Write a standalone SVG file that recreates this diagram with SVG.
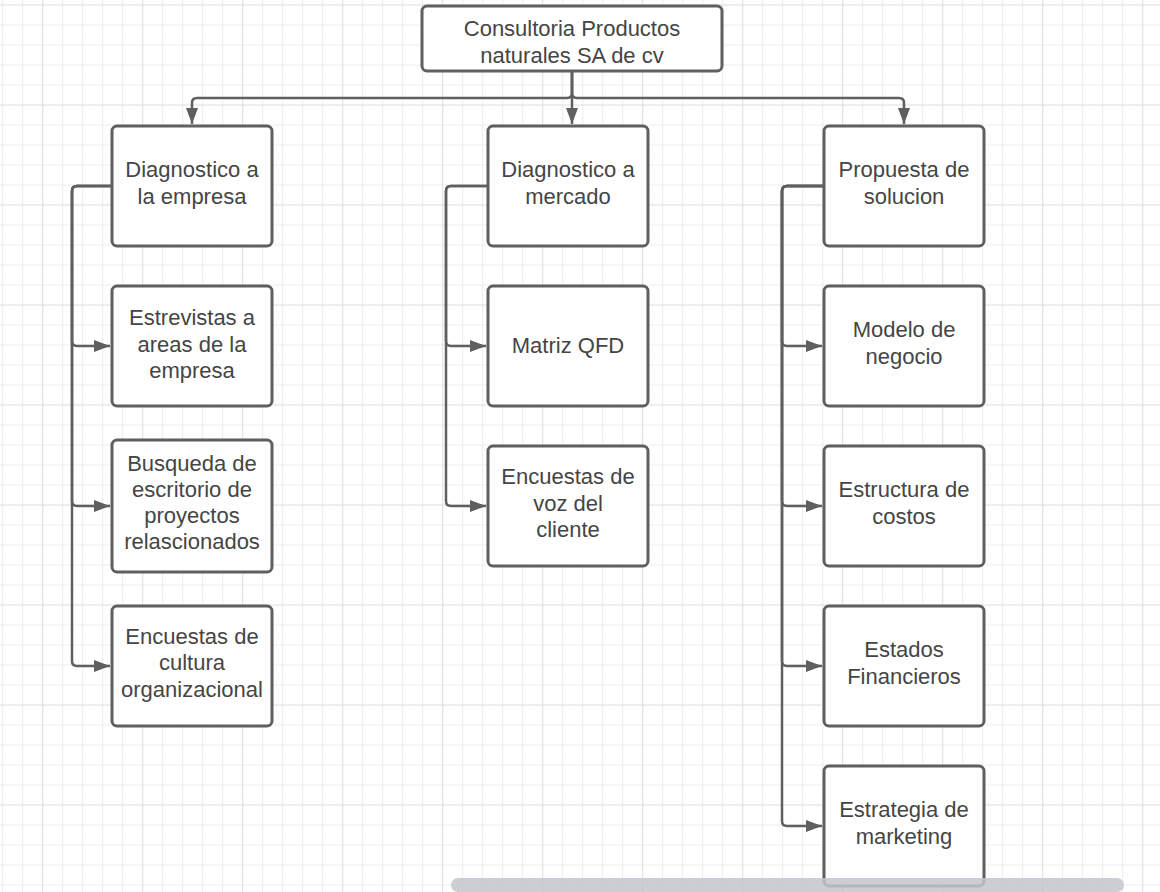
<svg xmlns="http://www.w3.org/2000/svg" width="1160" height="892" viewBox="0 0 1160 892">
  <defs>
    <pattern id="grid" patternUnits="userSpaceOnUse" x="42.2" y="4.5" width="100" height="100">
      <rect x="20" y="0" width="1" height="100" fill="#ececec"/>
      <rect x="40" y="0" width="1" height="100" fill="#ececec"/>
      <rect x="60" y="0" width="1" height="100" fill="#ececec"/>
      <rect x="80" y="0" width="1" height="100" fill="#ececec"/>
      <rect x="0" y="20" width="100" height="1" fill="#ececec"/>
      <rect x="0" y="40" width="100" height="1" fill="#ececec"/>
      <rect x="0" y="60" width="100" height="1" fill="#ececec"/>
      <rect x="0" y="80" width="100" height="1" fill="#ececec"/>
      <rect x="0" y="0" width="1" height="100" fill="#dcdcdc"/>
      <rect x="0" y="0" width="100" height="1" fill="#dcdcdc"/>
    </pattern>
    <marker id="arrow" markerUnits="userSpaceOnUse" markerWidth="16" markerHeight="12" refX="16" refY="6" orient="auto">
      <path d="M0,0 L16,6 L0,12 Z" fill="#5f5f5f"/>
    </marker>
    <style>
      .box { fill: #ffffff; stroke: #5f5f5f; stroke-width: 3; }
      .lbl { font-family: "Liberation Sans", Arial, sans-serif; font-size: 22px; fill: #454545; text-anchor: middle; }
      .conn path { fill: none; stroke: #5f5f5f; stroke-width: 2.5; marker-end: url(#arrow); }
    </style>
  </defs>

  <!-- canvas -->
  <rect x="0" y="0" width="1160" height="892" fill="#ffffff"/>
  <rect x="0" y="0" width="1160" height="892" fill="url(#grid)"/>

  <!-- connectors -->
  <g id="connectors" class="conn">
    <!-- root to the three branches -->
    <path d="M572,72 V93 Q572,98 567,98 H197 Q192,98 192,103 V124"/>
    <path d="M572,72 V124"/>
    <path d="M572,72 V93 Q572,98 577,98 H899 Q904,98 904,103 V124"/>
    <!-- Diagnostico a la empresa -->
    <path d="M112,186 H77 Q72,186 72,191 V341 Q72,346 77,346 H110"/>
    <path d="M112,186 H77 Q72,186 72,191 V501 Q72,506 77,506 H110"/>
    <path d="M112,186 H77 Q72,186 72,191 V661 Q72,666 77,666 H110"/>
    <!-- Diagnostico a mercado -->
    <path d="M488,186 H451 Q446,186 446,191 V341 Q446,346 451,346 H486"/>
    <path d="M488,186 H451 Q446,186 446,191 V501 Q446,506 451,506 H486"/>
    <!-- Propuesta de solucion -->
    <path d="M824,186 H787 Q782,186 782,191 V341 Q782,346 787,346 H822"/>
    <path d="M824,186 H787 Q782,186 782,191 V501 Q782,506 787,506 H822"/>
    <path d="M824,186 H787 Q782,186 782,191 V661 Q782,666 787,666 H822"/>
    <path d="M824,186 H787 Q782,186 782,191 V821 Q782,826 787,826 H822"/>
  </g>

  <!-- root -->
  <g id="root">
    <rect class="box" x="422" y="6" width="300" height="65" rx="5"/>
    <text class="lbl"><tspan x="572" y="36">Consultoria Productos</tspan><tspan x="572" y="62.5">naturales SA de cv</tspan></text>
  </g>

  <!-- column 1 -->
  <g id="diag-empresa">
    <rect class="box" x="112" y="126" width="160" height="120" rx="5"/>
    <text class="lbl"><tspan x="192" y="177">Diagnostico a</tspan><tspan x="192" y="203.5">la empresa</tspan></text>
  </g>
  <g id="entrevistas">
    <rect class="box" x="112" y="286" width="160" height="120" rx="5"/>
    <text class="lbl"><tspan x="192" y="325">Estrevistas a</tspan><tspan x="192" y="351.5">areas de la</tspan><tspan x="192" y="378">empresa</tspan></text>
  </g>
  <g id="busqueda">
    <rect class="box" x="112" y="440" width="160" height="132" rx="5"/>
    <text class="lbl"><tspan x="192" y="471">Busqueda de</tspan><tspan x="192" y="497">escritorio de</tspan><tspan x="192" y="523">proyectos</tspan><tspan x="192" y="549">relascionados</tspan></text>
  </g>
  <g id="cultura">
    <rect class="box" x="112" y="606" width="160" height="120" rx="5"/>
    <text class="lbl"><tspan x="192" y="643.5">Encuestas de</tspan><tspan x="192" y="670">cultura</tspan><tspan x="192" y="696.5">organizacional</tspan></text>
  </g>

  <!-- column 2 -->
  <g id="diag-mercado">
    <rect class="box" x="488" y="126" width="160" height="120" rx="5"/>
    <text class="lbl"><tspan x="568" y="177">Diagnostico a</tspan><tspan x="568" y="203.5">mercado</tspan></text>
  </g>
  <g id="qfd">
    <rect class="box" x="488" y="286" width="160" height="120" rx="5"/>
    <text class="lbl"><tspan x="568" y="353">Matriz QFD</tspan></text>
  </g>
  <g id="voz-cliente">
    <rect class="box" x="488" y="446" width="160" height="120" rx="5"/>
    <text class="lbl"><tspan x="568" y="484">Encuestas de</tspan><tspan x="568" y="510.5">voz del</tspan><tspan x="568" y="537">cliente</tspan></text>
  </g>

  <!-- column 3 -->
  <g id="propuesta">
    <rect class="box" x="824" y="126" width="160" height="120" rx="5"/>
    <text class="lbl"><tspan x="904" y="177">Propuesta de</tspan><tspan x="904" y="203.5">solucion</tspan></text>
  </g>
  <g id="modelo">
    <rect class="box" x="824" y="286" width="160" height="120" rx="5"/>
    <text class="lbl"><tspan x="904" y="337">Modelo de</tspan><tspan x="904" y="363.5">negocio</tspan></text>
  </g>
  <g id="costos">
    <rect class="box" x="824" y="446" width="160" height="120" rx="5"/>
    <text class="lbl"><tspan x="904" y="497">Estructura de</tspan><tspan x="904" y="523.5">costos</tspan></text>
  </g>
  <g id="financieros">
    <rect class="box" x="824" y="606" width="160" height="120" rx="5"/>
    <text class="lbl"><tspan x="904" y="657">Estados</tspan><tspan x="904" y="683.5">Financieros</tspan></text>
  </g>
  <g id="marketing">
    <rect class="box" x="824" y="766" width="160" height="120" rx="5"/>
    <text class="lbl"><tspan x="904" y="817">Estrategia de</tspan><tspan x="904" y="843.5">marketing</tspan></text>
  </g>

  <!-- horizontal scrollbar -->
  <rect x="451" y="878" width="673" height="14" rx="7" fill="#c3c6cb" fill-opacity="0.85"/>
</svg>
